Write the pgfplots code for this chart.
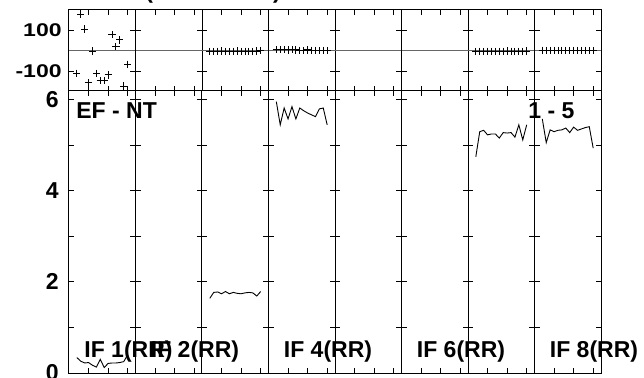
\documentclass[border=0pt]{standalone}
\usepackage{fontspec}
\setmainfont{Liberation Sans}
\usepackage{pgfplots}
\pgfplotsset{compat=1.18}
\newcommand\lab{\bfseries\fontsize{11.5}{13}\selectfont}
\pgfplotsset{
  panel/.style={scale only axis, width=33.25pt, anchor=south west,
    xmin=0, xmax=17, xtick={5,10,15}, xticklabels={},
    tick align=inside, xtick pos=both, ytick pos=both,
    major tick length=2.6pt, minor tick length=2.6pt,
    axis line style={line width=0.5pt},
    every tick/.style={black, line width=0.5pt},
    /pgf/number format/assume math mode=true,
    tick label style={font=\lab}},
  amp/.style={panel, height=141.15pt, ymin=0, ymax=6.2,
    ytick={0,2,4,6}, minor ytick={1,3,5}, yticklabels={},
    yticklabel style={anchor=east, inner sep=0pt, xshift=-5pt}},
  phs/.style={panel, height=40.35pt, ymin=-194, ymax=200,
    ytick={-100,100}, yticklabels={},
    yticklabel style={anchor=east, inner sep=0pt, xshift=-3.5pt, yscale=0.8}},
  aline/.style={black, line width=0.45pt, mark=none},
  pmark/.style={black, only marks, mark=+, mark size=1.8pt, line width=0.45pt},
  zline/.style={black!60, line width=0.5pt, mark=none, forget plot},
}
\begin{document}
\begin{tikzpicture}
% ---------------- amplitude row ----------------
\begin{axis}[amp, at={(0pt,0pt)}, yticklabels={0,2,4,6}]
\addplot[aline] coordinates {(2,0.34) (3,0.26) (4,0.22) (5,0.23) (6,0.17) (7,0.13) (8,0.30) (9,0.12) (10,0.21) (11,0.22) (12,0.22) (13,0.23) (14,0.25) (15,0.40)};
\end{axis}
\begin{axis}[amp, at={(33.25pt,0pt)}]
\end{axis}
\begin{axis}[amp, at={(66.5pt,0pt)}]
\addplot[aline] coordinates {(2,1.64) (3,1.77) (4,1.78) (5,1.74) (6,1.79) (7,1.74) (8,1.77) (9,1.75) (10,1.74) (11,1.76) (12,1.77) (13,1.76) (14,1.69) (15,1.79)};
\end{axis}
\begin{axis}[amp, at={(99.75pt,0pt)}]
\addplot[aline] coordinates {(2,5.96) (3,5.45) (4,5.82) (5,5.58) (6,5.85) (7,5.58) (8,5.82) (9,5.76) (10,5.71) (11,5.67) (12,5.63) (13,5.80) (14,5.82) (15,5.45)};
\end{axis}
\begin{axis}[amp, at={(133pt,0pt)}]
\end{axis}
\begin{axis}[amp, at={(166.25pt,0pt)}]
\end{axis}
\begin{axis}[amp, at={(199.5pt,0pt)}]
\addplot[aline] coordinates {(2,4.75) (3,5.30) (4,5.33) (5,5.23) (6,5.25) (7,5.25) (8,5.16) (9,5.28) (10,5.27) (11,5.28) (12,5.18) (13,5.45) (14,5.12) (15,5.45)};
\end{axis}
\begin{axis}[amp, at={(232.75pt,0pt)}]
\addplot[aline] coordinates {(2,5.58) (3,5.06) (4,5.34) (5,5.30) (6,5.33) (7,5.34) (8,5.38) (9,5.28) (10,5.40) (11,5.33) (12,5.36) (13,5.39) (14,5.41) (15,4.94)};
\end{axis}
% ---------------- phase row ----------------
\begin{axis}[phs, at={(0pt,141.15pt)}, yticklabels={-100,100}]
\addplot[zline] coordinates {(0,0) (17,0)};
\addplot[pmark] coordinates {(2,-109) (3,180) (4,107) (5,-155) (6,0) (7,-109) (8,-146) (9,-146) (10,-117) (11,81) (12,21) (13,54) (14,-171) (15,-65)};
\end{axis}
\begin{axis}[phs, at={(33.25pt,141.15pt)}]
\addplot[zline] coordinates {(0,0) (17,0)};
\end{axis}
\begin{axis}[phs, at={(66.5pt,141.15pt)}]
\addplot[zline] coordinates {(0,0) (17,0)};
\addplot[pmark] coordinates {(2,-1) (3,-2) (4,-1) (5,0) (6,-1) (7,-2) (8,-1) (9,0) (10,-1) (11,-1) (12,-2) (13,-1) (14,0) (15,2)};
\end{axis}
\begin{axis}[phs, at={(99.75pt,141.15pt)}]
\addplot[zline] coordinates {(0,0) (17,0)};
\addplot[pmark] coordinates {(2,6) (3,7) (4,6) (5,5) (6,6) (7,5) (8,4) (9,3) (10,5) (11,4) (12,3) (13,2) (14,2) (15,3)};
\end{axis}
\begin{axis}[phs, at={(133pt,141.15pt)}]
\addplot[zline] coordinates {(0,0) (17,0)};
\end{axis}
\begin{axis}[phs, at={(166.25pt,141.15pt)}]
\addplot[zline] coordinates {(0,0) (17,0)};
\end{axis}
\begin{axis}[phs, at={(199.5pt,141.15pt)}]
\addplot[zline] coordinates {(0,0) (17,0)};
\addplot[pmark] coordinates {(2,-2) (3,-1) (4,-2) (5,-1) (6,-1) (7,-2) (8,-1) (9,-1) (10,0) (11,-1) (12,-2) (13,-1) (14,-1) (15,0)};
\end{axis}
\begin{axis}[phs, at={(232.75pt,141.15pt)}]
\addplot[zline] coordinates {(0,0) (17,0)};
\addplot[pmark] coordinates {(2,4) (3,3) (4,3) (5,2) (6,3) (7,2) (8,3) (9,2) (10,2) (11,3) (12,2) (13,2) (14,3) (15,2)};
\end{axis}
% ---------------- labels ----------------
\node[anchor=base west, inner sep=0pt, font=\lab] at (3.5pt,127.5pt) {EF - NT};
\node[anchor=base west, inner sep=0pt, font=\lab] at (229.5pt,127.5pt) {1 - 5};
\node[anchor=base west, inner sep=0pt, font=\lab] at (7.5pt,8pt) {IF 1(RR)};
\node[anchor=base west, inner sep=0pt, font=\lab] at (40.75pt,8pt) {IF 2(RR)};
\node[anchor=base west, inner sep=0pt, font=\lab] at (107.25pt,8pt) {IF 4(RR)};
\node[anchor=base west, inner sep=0pt, font=\lab] at (173.75pt,8pt) {IF 6(RR)};
\node[anchor=base west, inner sep=0pt, font=\lab] at (240.25pt,8pt) {IF 8(RR)};
\node[anchor=base east, inner sep=0pt, font=\lab] at (37pt,187.2pt) {Plot file 1};
\node[anchor=base west, inner sep=0pt, font=\lab] at (38pt,187.2pt) {(EF - NT RR)};
\pgfresetboundingbox
\path[use as bounding box] (-34.5pt,-2pt) rectangle (287.5pt,186.5pt);
\end{tikzpicture}
\end{document}
